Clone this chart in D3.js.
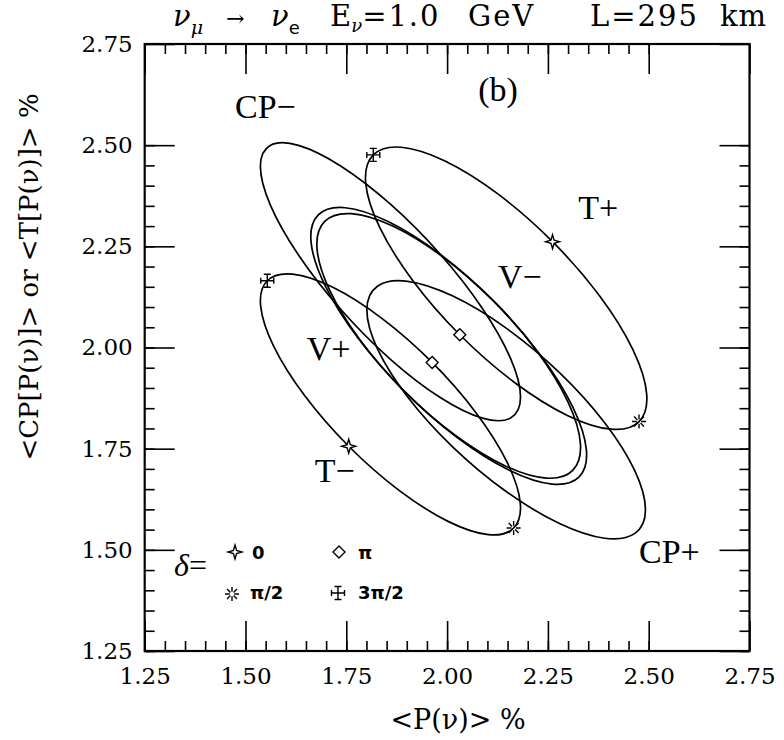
<!DOCTYPE html>
<html>
<head>
<meta charset="utf-8">
<script src="https://cdn.jsdelivr.net/npm/d3@7"></script>
<style>
  body { margin: 0; background: #fff; }
  svg text { fill: #000; }
</style>
</head>
<body>
<svg id="chart" width="784" height="740"></svg>
<script>
// Trajectories sampled every 22.5 degrees of delta:
// index 0 -> delta = 0, 4 -> pi/2, 8 -> pi, 12 -> 3pi/2.  [ <P(nu)> , <CP or T [P(nu)]> ] in %.
const tPlus = [[2.2615,2.2615],[2.3789,2.1267],[2.4608,1.9948],[2.4949,1.8861],[2.4760,1.8170],[2.4069,1.7981],[2.2982,1.8322],[2.1664,1.9142],[2.0315,2.0315],[1.9142,2.1664],[1.8322,2.2982],[1.7981,2.4069],[1.8170,2.4760],[1.8861,2.4949],[1.9948,2.4608],[2.1267,2.3789]];
const tMinus = [[1.7560,1.7560],[1.8808,1.6470],[2.0023,1.5703],[2.1022,1.5376],[2.1650,1.5540],[2.1814,1.6168],[2.1487,1.7167],[2.0720,1.8382],[1.9630,1.9630],[1.8382,2.0720],[1.7167,2.1487],[1.6168,2.1814],[1.5540,2.1650],[1.5376,2.1022],[1.5703,2.0023],[1.6470,1.8808]];
const cpPlus = [[2.4920,1.5991],[2.4657,1.5406],[2.3908,1.5286],[2.2787,1.5650],[2.1465,1.6441],[2.0143,1.7540],[1.9022,1.8778],[1.8273,1.9968],[1.8010,2.0929],[1.8273,2.1514],[1.9022,2.1634],[2.0143,2.1270],[2.1465,2.0479],[2.2787,1.9380],[2.3908,1.8142],[2.4657,1.6952]];
const cpMinus = [[2.1821,1.8774],[2.1576,1.8258],[2.0876,1.8254],[1.9830,1.8764],[1.8595,1.9709],[1.7360,2.0946],[1.6314,2.2286],[1.5614,2.3526],[1.5369,2.4476],[1.5614,2.4992],[1.6314,2.4996],[1.7360,2.4486],[1.8595,2.3541],[1.9830,2.2304],[2.0876,2.0964],[2.1576,1.9724]];
const vPlus = [[2.1150,2.1150],[2.2304,1.9828],[2.3112,1.8538],[2.3454,1.7476],[2.3275,1.6805],[2.2604,1.6626],[2.1542,1.6968],[2.0252,1.7776],[1.8930,1.8930],[1.7776,2.0252],[1.6968,2.1542],[1.6626,2.2604],[1.6805,2.3275],[1.7476,2.3454],[1.8538,2.3112],[1.9828,2.2304]];
const vMinus = [[2.1150,2.1150],[2.2243,1.9889],[2.3000,1.8650],[2.3307,1.7623],[2.3116,1.6964],[2.2457,1.6773],[2.1430,1.7080],[2.0191,1.7837],[1.8930,1.8930],[1.7837,2.0191],[1.7080,2.1430],[1.6773,2.2457],[1.6964,2.3116],[1.7623,2.3307],[1.8650,2.3000],[1.9889,2.2243]];

// Curves carrying the delta markers, and which sample index each marker sits on
const markedCurves = [tPlus, tMinus];
const markerKinds = ["zero", "halfPi", "pi", "threeHalfPi"];
const markerIndex = [0, 4, 8, 12];
const markerText = ["0", "π/2", "π", "3π/2"];

// Axis ticks
const majorTicks = [1.25, 1.50, 1.75, 2.00, 2.25, 2.50, 2.75];
const minorTicks = d3.range(26).map(i => 1.25 + i * 0.05);

// Curve names, placed in data units
const curveLabels = [
  { text: "CP−", x: 1.474, y: 2.567 },
  { text: "T+",  x: 2.325, y: 2.317 },
  { text: "V−",  x: 2.126, y: 2.147 },
  { text: "V+",  x: 1.652, y: 1.969 },
  { text: "T−",  x: 1.672, y: 1.668 },
  { text: "CP+", x: 2.476, y: 1.467 },
  { text: "(b)", x: 2.077, y: 2.609 }
];

const svg = d3.select("#chart");
const L = 144.7, R = 749.5, T = 44, B = 651;
const x = d3.scaleLinear().domain([1.25, 2.75]).range([L, R]);
const y = d3.scaleLinear().domain([1.25, 2.75]).range([B, T]);

const serif = "'DejaVu Serif', serif";
const roman = "'Liberation Serif', 'Times New Roman', serif";

// ---- axes: long inward major ticks, short inward minor ticks on all four sides
function styleAxis(g) {
  g.select(".domain").remove();
  g.selectAll(".tick line").attr("stroke", "#000").attr("stroke-width", 1.6);
}
const fmt = d3.format(".2f");

svg.append("g").attr("transform", `translate(0,${B})`)
  .call(d3.axisBottom(x).tickValues(minorTicks).tickSize(-10).tickFormat(""))
  .call(styleAxis);
svg.append("g").attr("transform", `translate(0,${B})`)
  .call(d3.axisBottom(x).tickValues(majorTicks).tickSize(-30).tickPadding(17).tickFormat(fmt))
  .call(styleAxis)
  .call(g => g.selectAll("text").attr("font-family", serif).attr("font-size", 23));

svg.append("g").attr("transform", `translate(0,${T})`)
  .call(d3.axisTop(x).tickValues(minorTicks).tickSize(-10).tickFormat(""))
  .call(styleAxis);
svg.append("g").attr("transform", `translate(0,${T})`)
  .call(d3.axisTop(x).tickValues(majorTicks).tickSize(-30).tickFormat(""))
  .call(styleAxis);

svg.append("g").attr("transform", `translate(${L},0)`)
  .call(d3.axisLeft(y).tickValues(minorTicks).tickSize(-10).tickFormat(""))
  .call(styleAxis);
svg.append("g").attr("transform", `translate(${L},0)`)
  .call(d3.axisLeft(y).tickValues(majorTicks).tickSize(-30).tickPadding(12).tickFormat(fmt))
  .call(styleAxis)
  .call(g => g.selectAll("text").attr("font-family", serif).attr("font-size", 23));

svg.append("g").attr("transform", `translate(${R},0)`)
  .call(d3.axisRight(y).tickValues(minorTicks).tickSize(-10).tickFormat(""))
  .call(styleAxis);
svg.append("g").attr("transform", `translate(${R},0)`)
  .call(d3.axisRight(y).tickValues(majorTicks).tickSize(-30).tickFormat(""))
  .call(styleAxis);

svg.append("rect")
  .attr("x", L).attr("y", T).attr("width", R - L).attr("height", B - T)
  .attr("fill", "none").attr("stroke", "#000").attr("stroke-width", 2.2);

// ---- trajectories (closed smooth curves through the sampled points)
const line = d3.line()
  .x(d => x(d[0])).y(d => y(d[1]))
  .curve(d3.curveCardinalClosed.tension(0));

const curves = [cpMinus, cpPlus, vPlus, vMinus, tMinus, tPlus];
svg.append("g").selectAll("path").data(curves).join("path")
  .attr("d", line)
  .attr("fill", "none").attr("stroke", "#000").attr("stroke-width", 1.7)
  .attr("stroke-linejoin", "round");

// ---- marker glyphs
function drawMarker(g, kind) {
  const st = { fill: "none", stroke: "#000", "stroke-width": 1.4 };
  const add = (tag, attrs) => {
    const el = g.append(tag);
    Object.entries(Object.assign({}, st, attrs)).forEach(([k, v]) => el.attr(k, v));
    return el;
  };
  if (kind === "zero") {
    add("path", { d: "M0,-7L1.6,-1.6L7,0L1.6,1.6L0,7L-1.6,1.6L-7,0L-1.6,-1.6Z", fill: "#fff" });
  } else if (kind === "halfPi") {
    let d = "";
    for (let i = 0; i < 8; i++) {
      const a = i * Math.PI / 4;
      d += `M${(2.2 * Math.cos(a)).toFixed(2)},${(2.2 * Math.sin(a)).toFixed(2)}L${(7 * Math.cos(a)).toFixed(2)},${(7 * Math.sin(a)).toFixed(2)}`;
    }
    add("path", { d: d });
  } else if (kind === "pi") {
    add("path", { d: "M0,-6L6,0L0,6L-6,0Z", fill: "#fff" });
  } else {
    add("path", { d: "M0,-6.5L0,6.5M-6.5,0L6.5,0M-3.5,-6.5L3.5,-6.5M-3.5,6.5L3.5,6.5M-6.5,-3L-6.5,3M6.5,-3L6.5,3" });
  }
}

markedCurves.forEach(c => {
  markerIndex.forEach((idx, i) => {
    const g = svg.append("g").attr("transform", `translate(${x(c[idx][0])},${y(c[idx][1])})`);
    drawMarker(g, markerKinds[i]);
  });
});

// ---- curve labels
svg.append("g").selectAll("text").data(curveLabels).join("text")
  .attr("x", d => x(d.x)).attr("y", d => y(d.y))
  .attr("font-family", roman).attr("font-size", 34)
  .text(d => d.text);

// ---- legend for delta
const leg = svg.append("g");
leg.append("text").attr("x", 174).attr("y", 576)
  .attr("font-family", roman).attr("font-size", 32)
  .html('<tspan font-style="italic">δ</tspan>=');

// glyph + text for each delta value (kind indexes markerKinds / markerText)
const legendEntries = [
  { kind: 0, gx: 235, gy: 552, tx: 252, ty: 559 },
  { kind: 2, gx: 339, gy: 552, tx: 358, ty: 559 },
  { kind: 1, gx: 232, gy: 594, tx: 250, ty: 599 },
  { kind: 3, gx: 338, gy: 593, tx: 358, ty: 599 }
];
legendEntries.forEach(d => {
  drawMarker(leg.append("g").attr("transform", `translate(${d.gx},${d.gy})`), markerKinds[d.kind]);
});
leg.selectAll("text.entry").data(legendEntries).join("text")
  .attr("class", "entry")
  .attr("x", d => d.tx).attr("y", d => d.ty)
  .attr("font-family", "'DejaVu Sans', sans-serif")
  .attr("font-weight", "bold")
  .attr("font-size", 18)
  .text(d => markerText[d.kind]);

// ---- axis titles
svg.append("text")
  .attr("x", 458).attr("y", 729)
  .attr("text-anchor", "middle")
  .attr("font-family", serif).attr("font-size", 27)
  .text("<P(ν)> %");

svg.append("text")
  .attr("transform", "translate(38,277) rotate(-90)")
  .attr("text-anchor", "middle")
  .attr("font-family", serif).attr("font-size", 26)
  .text("<CP[P(ν)]> or <T[P(ν)]> %");

// ---- header
const head = svg.append("text").attr("y", 26)
  .attr("font-family", serif).attr("font-size", 29);
head.append("tspan").attr("x", 173).attr("font-style", "italic").text("ν");
head.append("tspan").attr("dy", 8).attr("font-size", 19).attr("font-style", "italic").text("μ");
head.append("tspan").attr("x", 226).attr("dy", -8).attr("font-size", 22).text("→");
head.append("tspan").attr("x", 271).attr("font-style", "italic").text("ν");
head.append("tspan").attr("dy", 8).attr("font-size", 18)
  .attr("font-family", "'DejaVu Sans', sans-serif").text("e");
head.append("tspan").attr("x", 330).attr("dy", -8).text("E");
head.append("tspan").attr("dy", 6).attr("font-size", 18).attr("font-style", "italic").text("ν");
head.append("tspan").attr("dy", -6).attr("letter-spacing", 2).text("=1.0");
head.append("tspan").attr("x", 468).attr("letter-spacing", 2).text("GeV");
head.append("tspan").attr("x", 590).attr("letter-spacing", 2).text("L=295");
head.append("tspan").attr("x", 720).attr("letter-spacing", 1).text("km");
</script>
</body>
</html>
